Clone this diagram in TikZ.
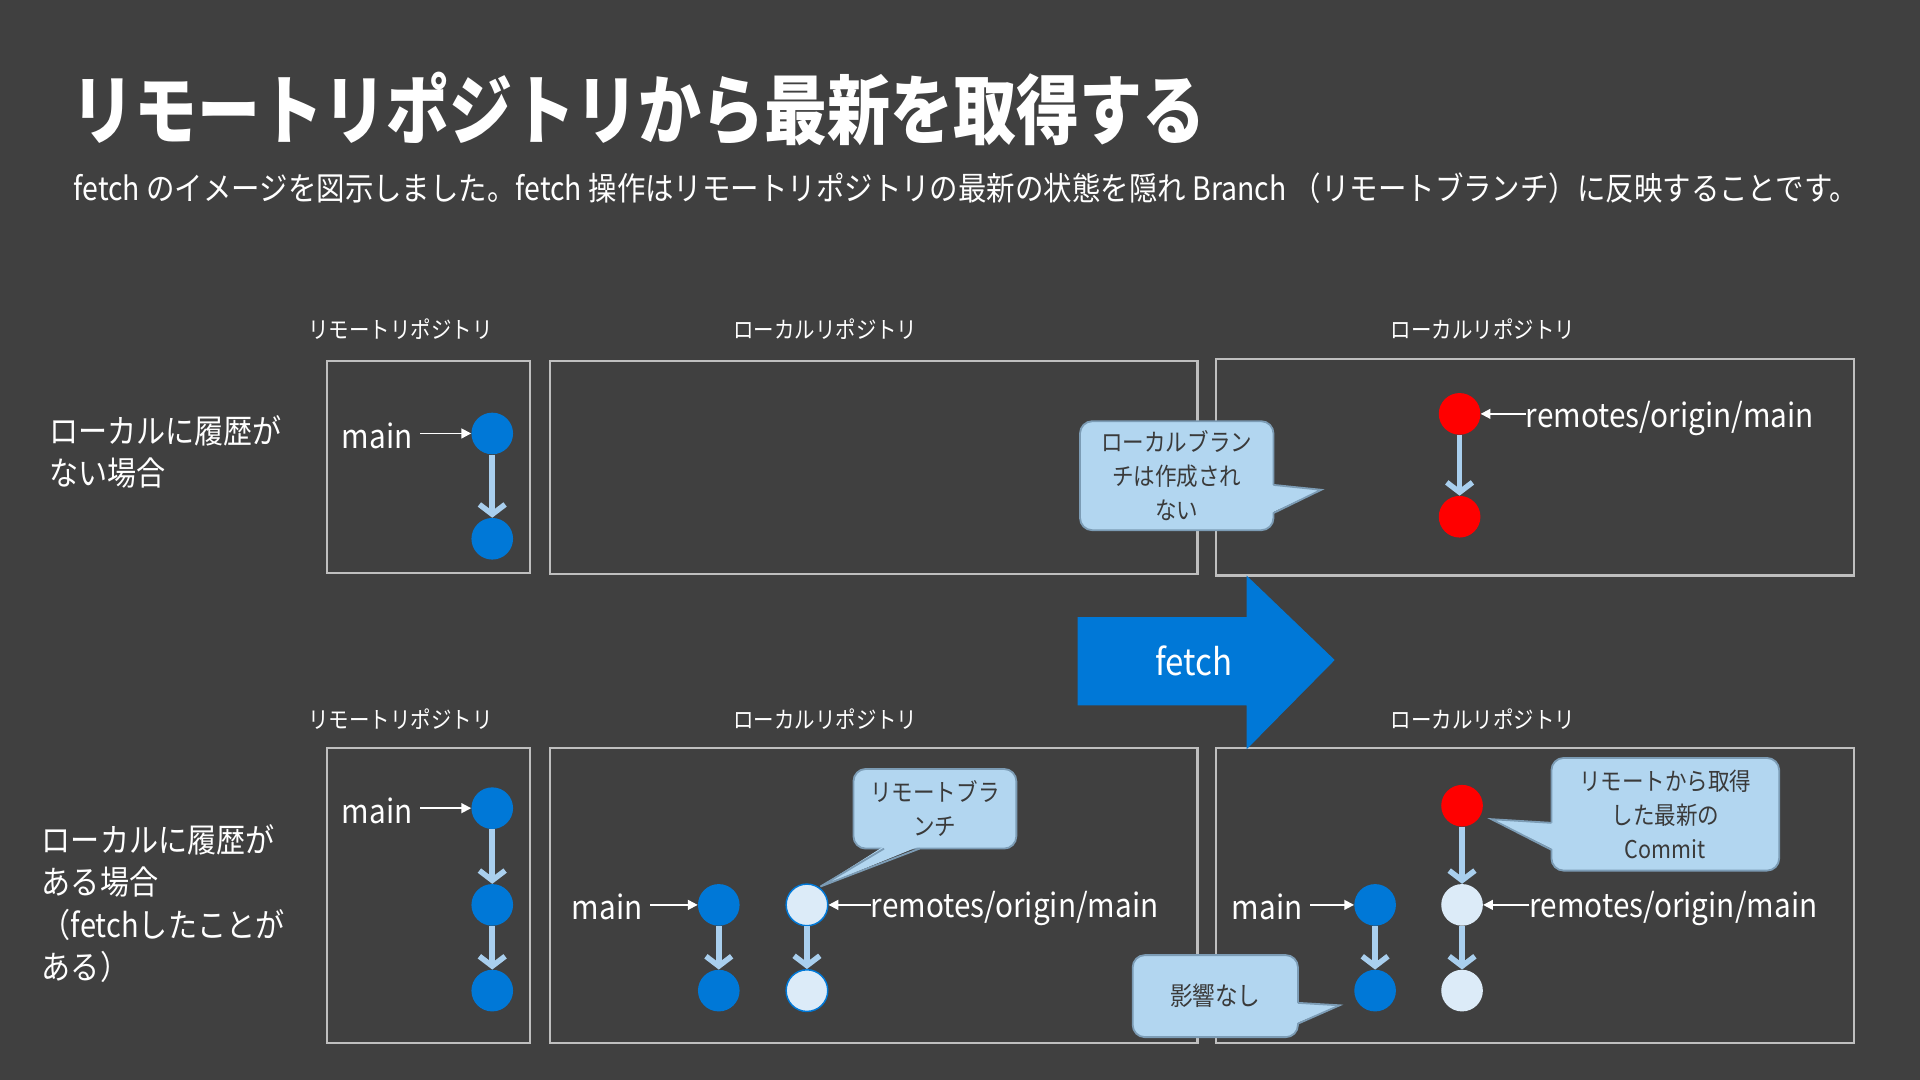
\documentclass[tikz,border=0pt]{standalone}
\usepackage{fontspec}
\setmainfont[FakeStretch=0.88]{Noto Sans CJK JP}
\newfontfamily\titlefont[FakeStretch=0.83]{Noto Sans CJK JP}
\newfontfamily\latinfont[FakeStretch=0.9]{Noto Sans CJK JP}
\usetikzlibrary{arrows.meta}
\definecolor{bg}{HTML}{404040}
\definecolor{boxgray}{HTML}{BFBFBF}
\definecolor{cblue}{HTML}{0078D7}
\definecolor{cred}{HTML}{FF0000}
\definecolor{clight}{HTML}{DCEBF8}
\definecolor{carrowc}{HTML}{A9CFEE}
\definecolor{cofill}{HTML}{B2D6F0}
\definecolor{coborder}{HTML}{7C9CB5}
\definecolor{cotext}{HTML}{3A3A3A}
\begin{document}
\begin{tikzpicture}[x=1pt,y=-1pt,
  repobox/.style={draw=boxgray, line width=1.8pt, inner sep=0pt},
  commit/.style={circle, minimum size=34pt, inner sep=0pt},
  bluec/.style={commit, fill=cblue},
  redc/.style={commit, fill=cred},
  lightc/.style={commit, fill=clight, draw=cblue, line width=1.2pt},
  lightcb/.style={commit, fill=clight},
  carrow/.style={draw=carrowc, line width=4.5pt, -{Straight Barb[length=8pt,width=21pt]}},
  parrow/.style={draw=white, line width=1.5pt, -{Triangle[length=8pt,width=8pt]}},
  lbl/.style={text=white, inner sep=0pt, font=\latinfont\fontsize{27}{32}\selectfont},
  hdr/.style={text=white, inner sep=0pt, font=\fontsize{19}{22}\selectfont},
  side/.style={text=white, inner sep=0pt, align=left, font=\fontsize{27}{34.5}\selectfont},
  callout/.style={fill=cofill, draw=coborder, line width=1.5pt, rounded corners=10pt,
    text=cotext, align=center, inner sep=0pt, font=\fontsize{20}{27.5}\selectfont},
  tailfill/.style={fill=cofill},
  tailline/.style={draw=coborder, line width=1.5pt, line join=miter}
]
% background
\fill[bg] (0,0) rectangle (1568,882);
\useasboundingbox (0,0) rectangle (1568,882);

% title and subtitle
\node[anchor=west, inner sep=0pt, text=white, font=\titlefont\bfseries\fontsize{62}{70}\selectfont] (title) at (58,89) {リモートリポジトリから最新を取得する};
\node[anchor=west, inner sep=0pt, text=white, font=\fontsize{26.4}{30}\selectfont] (subtitle) at (60,154) {fetch のイメージを図示しました。fetch 操作はリモートリポジトリの最新の状態を隠れ Branch （リモートブランチ）に反映することです。};

% headers
\node[hdr] (h11) at (327,269) {リモートリポジトリ};
\node[hdr] (h12) at (674,269) {ローカルリポジトリ};
\node[hdr] (h13) at (1211,269) {ローカルリポジトリ};
\node[hdr] (h21) at (327,587) {リモートリポジトリ};
\node[hdr] (h22) at (674,587) {ローカルリポジトリ};
\node[hdr] (h23) at (1211,587) {ローカルリポジトリ};

% side labels
\node[side, anchor=west] (s1) at (40,369) {ローカルに履歴が\\ない場合};
\node[side, anchor=west] (s2) at (34,738) {ローカルに履歴が\\ある場合\\（fetchしたことが\\ある）};

% boxes
\node[repobox, minimum width=166pt, minimum height=173pt] (b11) at (350,381.5) {};
\node[repobox, minimum width=529pt, minimum height=174pt] (b12) at (713.5,382) {};
\node[repobox, minimum width=521pt, minimum height=177pt] (b13) at (1253.5,381.5) {};
\node[repobox, minimum width=166pt, minimum height=241pt] (b21) at (350,731.5) {};
\node[repobox, minimum width=529pt, minimum height=241pt] (b22) at (713.5,731.5) {};
\node[repobox, minimum width=521pt, minimum height=241pt] (b23) at (1253.5,731.5) {};

% row 1 remote
\node[bluec] (c11) at (402,354) {};
\node[bluec] (c12) at (402,440) {};
\draw[carrow] (c11) -- (c12);
\node[lbl, anchor=east] (m11) at (337,356) {main};
\draw[parrow, shorten <=6pt] (c11.west -| m11.east) -- (c11.west);

% row 1 local after
\node[redc] (r11) at (1192,338) {};
\node[redc] (r12) at (1192,422) {};
\draw[carrow] (r11) -- (r12);
\node[lbl, anchor=west] (o11) at (1246,342) {remotes/origin/main};
\draw[parrow] (r11.east -| o11.west) -- (r11.east);

% callout 1
\node[callout, minimum width=158pt, minimum height=89pt] (co1) at (961,388.5) {ローカルブラン\\チは作成され\\ない};
\coordinate (t1) at (1079,400);
\fill[tailfill] (1038,396) -- (t1) -- (1038,419) -- cycle;
\draw[tailline] (1040,396) -- (t1) -- (1040,419);

% row 2 remote
\node[bluec] (c21) at (402,660) {};
\node[bluec] (c22) at (402,739) {};
\node[bluec] (c23) at (402,809) {};
\draw[carrow] (c21) -- (c22);
\draw[carrow] (c22) -- (c23);
\node[lbl, anchor=east] (m21) at (337,662) {main};
\draw[parrow, shorten <=6pt] (c21.west -| m21.east) -- (c21.west);

% row 2 local before
\node[bluec] (d1) at (587,739) {};
\node[bluec] (d2) at (587,809) {};
\node[lightc] (l1) at (659,739) {};
\node[lightc] (l2) at (659,809) {};
\draw[carrow] (d1) -- (d2);
\draw[carrow] (l1) -- (l2);
\node[lbl, anchor=east] (m22) at (525,741) {main};
\draw[parrow, shorten <=6pt] (d1.west -| m22.east) -- (d1.west);
\node[lbl, anchor=west] (o22) at (711,742) {remotes/origin/main};
\draw[parrow] (l1.east -| o22.west) -- (l1.east);

% callout 2
\node[callout, minimum width=133pt, minimum height=65pt] (co2) at (763.5,660.5) {リモートブラ\\ンチ};
\coordinate (t2) at (670,724);
\fill[tailfill] (722,691) -- (t2) -- (751,691) -- cycle;
\draw[tailline] (722,693) -- (t2) -- (751,693);

% row 2 local after
\node[bluec] (a1) at (1123,739) {};
\node[bluec] (a2) at (1123,809) {};
\node[redc] (ar) at (1194,658) {};
\node[lightcb] (al1) at (1194,739) {};
\node[lightcb] (al2) at (1194,809) {};
\draw[carrow] (a1) -- (a2);
\draw[carrow] (ar) -- (al1);
\draw[carrow] (al1) -- (al2);
\node[lbl, anchor=east] (m23) at (1064,741) {main};
\draw[parrow, shorten <=6pt] (a1.west -| m23.east) -- (a1.west);
\node[lbl, anchor=west] (o23) at (1249,742) {remotes/origin/main};
\draw[parrow] (al1.east -| o23.west) -- (al1.east);

% callout 3
\node[callout, minimum width=186pt, minimum height=92pt] (co3) at (1360,665) {リモートから取得\\した最新の\\Commit};
\coordinate (t3) at (1218,669);
\fill[tailfill] (1269,672) -- (t3) -- (1269,694) -- cycle;
\draw[tailline] (1267,672) -- (t3) -- (1267,694);

% callout 4
\node[callout, minimum width=135pt, minimum height=67pt, font=\fontsize{21}{27}\selectfont] (co4) at (992.5,813.5) {影響なし};
\coordinate (t4) at (1094,821);
\fill[tailfill] (1058,819) -- (t4) -- (1058,836) -- cycle;
\draw[tailline] (1060,819) -- (t4) -- (1060,836);

% fetch arrow
\fill[cblue] (880,504) -- (1018,504) -- (1018,470) -- (1090,539) -- (1018,612) -- (1018,576) -- (880,576) -- cycle;
\node[text=white, inner sep=0pt, font=\latinfont\fontsize{30}{34}\selectfont] (fetch) at (975,540) {fetch};
\end{tikzpicture}
\end{document}
